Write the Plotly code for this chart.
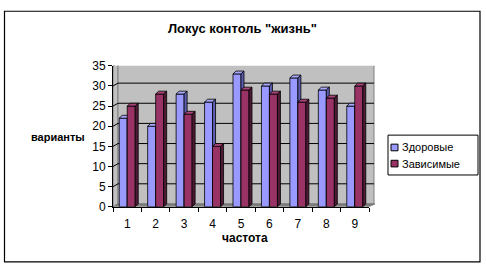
import plotly.graph_objects as go

# ---- data ----
categories = [1, 2, 3, 4, 5, 6, 7, 8, 9]
zdorovye = [22, 20, 28, 26, 33, 30, 32, 29, 25]
zavisimye = [25, 28, 23, 15, 29, 28, 26, 27, 30]
series_names = ["Здоровые", "Зависимые"]
y_ticks = [0, 5, 10, 15, 20, 25, 30, 35]
title_text = 'Локус контоль "жизнь"'
x_title = "частота"
y_title = "варианты"

# ---- geometry (pixels) ----
W, H = 486, 275
X0, X1 = 113, 369          # x axis extent
Y0, Y1 = 210.5, 62         # y pixel of 0 and 35
YMAX = 35
px_x = (X1 - X0) / len(categories)
px_y = (Y0 - Y1) / YMAX
bar_w = 8 / px_x
bdx = 3 / px_x
bdy = 3 / px_y
wall_dx_px = 5
wall_dy = 3 / px_y

def px(x):
    return x / W

def py(y):
    return 1 - y / H

FONT = "Liberation Sans, Arial, sans-serif"
colors = {
    "Здоровые": ("#9999FF", "#A8A8FF", "#5C5CB0"),
    "Зависимые": ("#993366", "#A8447A", "#4F1A35"),
}

fig = go.Figure()

def faces(values, left_off):
    fx, fy, tx, ty, sx, sy = [], [], [], [], [], []
    for c, v in zip(categories, values):
        xl = c + left_off
        xr = xl + bar_w
        fx += [xl, xr, xr, xl, xl, None]
        fy += [0, 0, v, v, 0, None]
        tx += [xl, xl + bdx, xr + bdx, xr, xl, None]
        ty += [v, v + bdy, v + bdy, v, v, None]
        sx += [xr, xr + bdx, xr + bdx, xr, xr, None]
        sy += [0, bdy, v + bdy, v, 0, None]
    return (fx, fy), (tx, ty), (sx, sy)

for name, vals, off in [(series_names[0], zdorovye, -bar_w), (series_names[1], zavisimye, 0)]:
    front, top, side = faces(vals, off)
    cf, ct, cs = colors[name]
    for (xx, yy), col in [(front, cf), (top, ct), (side, cs)]:
        fig.add_trace(go.Scatter(
            x=xx, y=yy, mode="lines", fill="toself", fillcolor=col,
            line=dict(color="black", width=0.8), showlegend=False,
            hoverinfo="skip", name=name))

shapes = []
# outer frame
shapes.append(dict(type="rect", xref="paper", yref="paper",
                   x0=px(4.5), x1=px(480), y0=py(268.5), y1=py(4.5),
                   line=dict(color="black", width=1.2), fillcolor="rgba(0,0,0,0)"))
# left wall
shapes.append(dict(type="path", xref="paper", yref="y", layer="below",
                   path=f"M {px(X0)},0 L {px(X0+wall_dx_px)},{wall_dy} L {px(X0+wall_dx_px)},{YMAX+wall_dy} L {px(X0)},{YMAX} Z",
                   fillcolor="#C0C0C0", line=dict(color="#808080", width=1)))
# back wall
shapes.append(dict(type="path", xref="paper", yref="y", layer="below",
                   path=f"M {px(X0+wall_dx_px)},{wall_dy} L {px(374)},{wall_dy} L {px(374)},{YMAX+wall_dy} L {px(X0+wall_dx_px)},{YMAX+wall_dy} Z",
                   fillcolor="#C0C0C0", line=dict(color="#808080", width=1)))
# floor
shapes.append(dict(type="path", xref="paper", yref="y", layer="below",
                   path=f"M {px(X0)},0 L {px(X0+wall_dx_px)},{wall_dy} L {px(375)},{wall_dy} L {px(X1)},0 Z",
                   fillcolor="#808080", line=dict(color="#606060", width=0.5)))
# gridlines on walls
for t in y_ticks[1:]:
    shapes.append(dict(type="path", xref="paper", yref="y", layer="below",
                       path=f"M {px(X0)},{t} L {px(X0+wall_dx_px)},{t+wall_dy} L {px(374)},{t+wall_dy}",
                       line=dict(color="black", width=1)))

# legend (manual)
LX0, LX1, LY0, LY1 = 388, 478, 135, 177
shapes.append(dict(type="rect", xref="paper", yref="paper",
                   x0=px(LX0), x1=px(LX1), y0=py(LY1), y1=py(LY0),
                   line=dict(color="black", width=1), fillcolor="white"))
annotations = []
for i, name in enumerate(series_names):
    cy = 148 + i * 17
    shapes.append(dict(type="rect", xref="paper", yref="paper",
                       x0=px(391), x1=px(398), y0=py(cy + 3.5), y1=py(cy - 3.5),
                       line=dict(color="black", width=1), fillcolor=colors[name][0]))
    annotations.append(dict(text=name, xref="paper", yref="paper", x=px(400), y=py(cy),
                            xanchor="left", yanchor="middle", showarrow=False,
                            font=dict(family=FONT, size=11, color="black")))

annotations.append(dict(text=f"<b>{title_text}</b>", xref="paper", yref="paper",
                        x=px(242), y=py(23), xanchor="center", yanchor="middle",
                        showarrow=False, font=dict(family=FONT, size=13, color="black")))
annotations.append(dict(text=f"<b>{y_title}</b>", xref="paper", yref="paper",
                        x=px(58), y=py(137), xanchor="center", yanchor="middle",
                        showarrow=False, font=dict(family=FONT, size=11, color="black")))
annotations.append(dict(text=f"<b>{x_title}</b>", xref="paper", yref="paper",
                        x=px(245), y=py(243), xanchor="center", yanchor="middle",
                        showarrow=False, font=dict(family=FONT, size=12, color="black")))

fig.update_layout(
    width=W, height=H, margin=dict(l=0, r=0, t=0, b=0),
    paper_bgcolor="white", plot_bgcolor="rgba(0,0,0,0)",
    showlegend=False, shapes=shapes, annotations=annotations,
    font=dict(family=FONT, size=12, color="black"),
    xaxis=dict(domain=[px(X0), px(X1)], range=[0.5, len(categories) + 0.5],
               tickvals=categories, ticktext=[str(c) for c in categories],
               ticks="", showgrid=False, zeroline=False,
               showline=True, linecolor="black", linewidth=1,
               minor=dict(tickvals=[c - 0.5 for c in categories] + [categories[-1] + 0.5],
                          ticks="outside", ticklen=4, tickcolor="black"),
               ticklabelstandoff=6,
               tickfont=dict(family=FONT, size=12, color="black")),
    yaxis=dict(domain=[py(Y0), py(Y1)], range=[0, YMAX], tickvals=y_ticks,
               ticks="outside", ticklen=4, tickcolor="black",
               showgrid=False, zeroline=False,
               showline=True, linecolor="black", linewidth=1,
               tickfont=dict(family=FONT, size=12, color="black")),
)

fig.write_html("out.html")
